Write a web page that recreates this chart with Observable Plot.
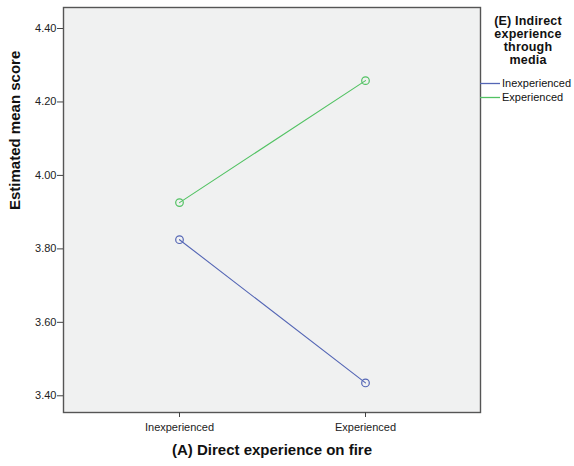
<!DOCTYPE html>
<html><head><meta charset="utf-8">
<script src="https://cdn.jsdelivr.net/npm/d3@7"></script>
<script src="https://cdn.jsdelivr.net/npm/@observablehq/plot@0.6"></script>
<style>
body{margin:0;background:#fff;font-family:"Liberation Sans",Arial,sans-serif;}
#wrap{position:relative;width:574px;height:466px;}
#legend{position:absolute;left:482px;top:15px;width:92px;color:#111;}
#legend .title{font-weight:bold;font-size:12.5px;line-height:13px;text-align:center;letter-spacing:0.2px;}
.item{position:absolute;left:-2px;font-size:11px;height:14px;white-space:nowrap;}
.item svg{position:absolute;left:0;top:0;}
.item .lb{position:absolute;left:22px;top:0;line-height:13px;}
</style></head><body><div id="wrap"></div>
<script>
const directLevels = ["Inexperienced", "Experienced"];
const mediaLevels = ["Inexperienced", "Experienced"];
const meanMediaInexperienced = [3.825, 3.435];
const meanMediaExperienced = [3.926, 4.258];
const yTicks = [3.4, 3.6, 3.8, 4.0, 4.2, 4.4];
const seriesColors = ["#5466b5", "#52c263"];
const legendTitleLines = ["(E) Indirect", "experience", "through", "media"];
const xTitle = "(A) Direct experience on fire";
const yTitle = "Estimated mean score";

const seriesValues = [meanMediaInexperienced, meanMediaExperienced];
const data = [];
mediaLevels.forEach((m, i) => directLevels.forEach((d, j) => data.push({direct: d, media: m, value: seriesValues[i][j]})));

const chart = Plot.plot({
  width: 574, height: 466,
  marginLeft: 63, marginRight: 94, marginTop: 7, marginBottom: 54,
  style: {fontFamily: "'Liberation Sans', Arial, sans-serif", background: "#fff", color: "#222"},
  x: {type: "point", domain: directLevels, padding: 0.615, label: null},
  y: {domain: [3.3545, 4.4572], label: null},
  color: {domain: mediaLevels, range: seriesColors},
  marks: [
    Plot.frame({fill: "#f0f1f1"}),
    Plot.line(data, {x: "direct", y: "value", z: "media", stroke: "media", strokeWidth: 1.1}),
    Plot.dot(data, {x: "direct", y: "value", stroke: "media", r: 3.8, strokeWidth: 1.2}),
    Plot.frame({stroke: "#555", strokeWidth: 1.4}),
    Plot.axisY({ticks: yTicks, tickFormat: d3.format(".2f"), tickSize: 6, tickPadding: 1, fontSize: 11, label: null, stroke: "#444"}),
    Plot.axisX({tickSize: 5, tickPadding: 6, fontSize: 11, label: null, stroke: "#444"}),
    Plot.text([yTitle], {frameAnchor: "left", dx: -48, rotate: -90, fontWeight: "bold", fontSize: 15, fill: "#111"}),
    Plot.text([xTitle], {frameAnchor: "bottom", dy: 42, fontWeight: "bold", fontSize: 15, fill: "#111"})
  ]
});
const wrap = document.getElementById("wrap");
wrap.appendChild(chart);

const legend = document.createElement("div");
legend.id = "legend";
const title = document.createElement("div");
title.className = "title";
title.innerHTML = legendTitleLines.join("<br>");
legend.appendChild(title);
mediaLevels.forEach((m, i) => {
  const it = document.createElement("div");
  it.className = "item";
  it.style.top = (62 + i * 14) + "px";
  it.innerHTML = `<svg width="22" height="14"><line x1="0" x2="20" y1="6.5" y2="6.5" stroke="${seriesColors[i]}" stroke-width="1.3"/></svg>`;
  const lb = document.createElement("div");
  lb.className = "lb";
  lb.textContent = m;
  it.appendChild(lb);
  legend.appendChild(it);
});
wrap.appendChild(legend);
</script></body></html>
